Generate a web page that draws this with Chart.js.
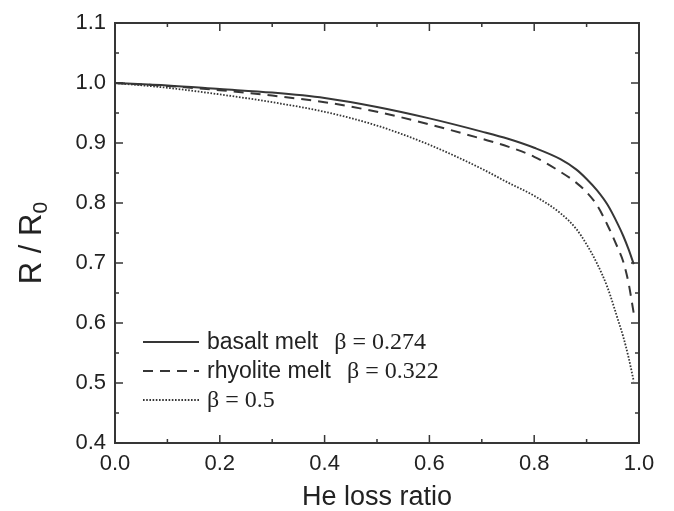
<!DOCTYPE html>
<html>
<head>
<meta charset="utf-8">
<script src="https://cdn.jsdelivr.net/npm/chart.js@4.4.0/dist/chart.umd.min.js"></script>
<style>
  html, body { margin: 0; padding: 0; background: #fff; }
  #wrap { width: 674px; height: 511px; position: relative; }
</style>
</head>
<body>
<div id="wrap"><canvas id="chart"></canvas></div>
<script>
// He loss ratio (x) and R/R0 for each melt
const lossRatio = [0, 0.1, 0.2, 0.3, 0.4, 0.5, 0.6, 0.7, 0.75, 0.8, 0.85, 0.88, 0.9, 0.92, 0.94, 0.96, 0.97, 0.98, 0.99];
const basalt    = [1.000, 0.996, 0.990, 0.984, 0.975, 0.960, 0.941, 0.919, 0.907, 0.892, 0.873, 0.856, 0.840, 0.821, 0.797, 0.764, 0.745, 0.723, 0.698];
const rhyolite  = [1.000, 0.995, 0.988, 0.979, 0.968, 0.952, 0.931, 0.907, 0.894, 0.877, 0.852, 0.834, 0.818, 0.796, 0.763, 0.724, 0.702, 0.667, 0.616];
const betaHalf  = [1.000, 0.992, 0.981, 0.968, 0.952, 0.929, 0.897, 0.857, 0.834, 0.812, 0.783, 0.757, 0.731, 0.699, 0.659, 0.605, 0.577, 0.543, 0.503];

const legendNames = ['basalt melt', 'rhyolite melt', ''];
const legendBetas = ['\u03B2 = 0.274', '\u03B2 = 0.322', '\u03B2 = 0.5'];
const xTicks = [0, 0.2, 0.4, 0.6, 0.8, 1.0];
const yTicks = [0.4, 0.5, 0.6, 0.7, 0.8, 0.9, 1.0, 1.1];

const ink = '#363636';
const sans = '"Liberation Sans", Arial, sans-serif';
const toPoints = ys => lossRatio.map((x, i) => ({ x: x, y: ys[i] }));

const series = [
  { data: basalt,   dash: [],         width: 2 },
  { data: rhyolite, dash: [10, 7],    width: 2 },
  { data: betaHalf, dash: [1.6, 1.6], width: 1.8 }
];

// frame + inward ticks on all four sides
const framePlugin = {
  id: 'frame',
  afterDatasetsDraw(chart) {
    const { ctx, chartArea: a, scales } = chart;
    const xs = scales.x, ys = scales.y;
    ctx.save();
    ctx.strokeStyle = ink;
    ctx.lineWidth = 2;
    ctx.strokeRect(a.left, a.top, a.right - a.left, a.bottom - a.top);
    ctx.lineWidth = 1.5;
    ctx.beginPath();
    for (let v = 0; v <= 1.0001; v += 0.1) {
      const px = xs.getPixelForValue(v);
      const len = Math.round(v * 10) % 2 === 0 ? 8 : 4;
      ctx.moveTo(px, a.bottom); ctx.lineTo(px, a.bottom - len);
      ctx.moveTo(px, a.top); ctx.lineTo(px, a.top + len);
    }
    for (let v = 0.4; v <= 1.1001; v += 0.05) {
      const py = ys.getPixelForValue(v);
      const len = Math.round(v * 100) % 10 === 0 ? 8 : 4;
      ctx.moveTo(a.left, py); ctx.lineTo(a.left + len, py);
      ctx.moveTo(a.right, py); ctx.lineTo(a.right - len, py);
    }
    ctx.stroke();
    ctx.restore();
  }
};

// axis titles and legend
const textPlugin = {
  id: 'texts',
  afterDraw(chart) {
    const { ctx, chartArea: a } = chart;
    ctx.save();
    ctx.fillStyle = '#222';
    // x title
    ctx.font = '27px ' + sans;
    ctx.textAlign = 'center';
    ctx.textBaseline = 'alphabetic';
    ctx.fillText('He loss ratio', (a.left + a.right) / 2, 505);
    // y title: R / R0
    ctx.translate(41, (a.top + a.bottom) / 2 + 10);
    ctx.rotate(-Math.PI / 2);
    ctx.textAlign = 'left';
    const main = 'R / R';
    ctx.font = '21px ' + sans;
    const subW = ctx.measureText('0').width;
    ctx.font = '31px ' + sans;
    const mainW = ctx.measureText(main).width;
    const start = -(mainW + subW) / 2;
    ctx.fillText(main, start, 0);
    ctx.font = '21px ' + sans;
    ctx.fillText('0', start + mainW, 6);
    ctx.restore();

    // legend
    ctx.save();
    const rows = [342, 371, 400];
    series.forEach((s, i) => {
      const y = rows[i];
      ctx.strokeStyle = ink;
      ctx.lineWidth = s.width;
      ctx.setLineDash(s.dash);
      ctx.beginPath();
      ctx.moveTo(143, y);
      ctx.lineTo(199, y);
      ctx.stroke();
      ctx.setLineDash([]);
      ctx.fillStyle = '#222';
      ctx.textBaseline = 'alphabetic';
      ctx.textAlign = 'left';
      let tx = 207;
      if (legendNames[i]) {
        ctx.font = '23px ' + sans;
        ctx.fillText(legendNames[i], tx, y + 7);
        tx += ctx.measureText(legendNames[i]).width + 16;
      }
      ctx.font = '24px "Liberation Serif", "Times New Roman", serif';
      ctx.fillText(legendBetas[i], tx, y + 7);
    });
    ctx.restore();
  }
};

new Chart(document.getElementById('chart'), {
  type: 'line',
  data: {
    datasets: series.map(s => ({
      data: toPoints(s.data),
      borderColor: ink,
      borderWidth: s.width,
      borderDash: s.dash,
      pointRadius: 0,
      fill: false,
      cubicInterpolationMode: 'monotone'
    }))
  },
  options: {
    responsive: true,
    maintainAspectRatio: false,
    animation: false,
    layout: { padding: { top: 23, right: 35, left: 0, bottom: 0 } },
    plugins: { legend: { display: false }, tooltip: { enabled: false } },
    scales: {
      x: {
        type: 'linear',
        min: 0, max: 1,
        afterBuildTicks: s => { s.ticks = xTicks.map(v => ({ value: v })); },
        afterFit: s => { s.height = 68; },
        grid: { display: false, drawTicks: false },
        border: { display: false },
        ticks: {
          padding: 8,
          color: '#222',
          font: { family: sans, size: 22 },
          callback: v => v.toFixed(1)
        }
      },
      y: {
        min: 0.4, max: 1.1,
        afterBuildTicks: s => { s.ticks = yTicks.map(v => ({ value: v })); },
        afterFit: s => { s.width = 115; },
        grid: { display: false, drawTicks: false },
        border: { display: false },
        ticks: {
          padding: 9,
          color: '#222',
          font: { family: sans, size: 22 },
          callback: v => v.toFixed(1)
        }
      }
    }
  },
  plugins: [framePlugin, textPlugin]
});
</script>
</body>
</html>
